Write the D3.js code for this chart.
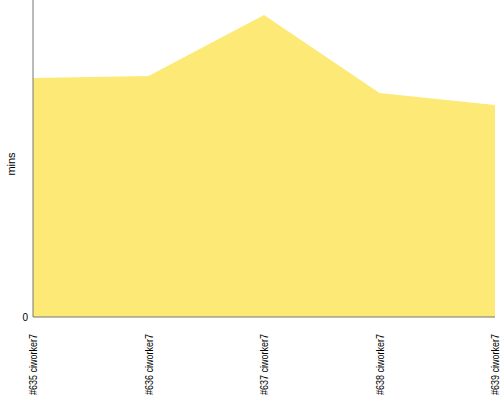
<!DOCTYPE html>
<html><head><meta charset="utf-8">
<script src="https://cdnjs.cloudflare.com/ajax/libs/d3/7.8.5/d3.min.js"></script>
<style>body{margin:0;background:#fff}svg{display:block}</style>
</head><body>
<svg id="c" width="500" height="400"></svg>
<script>
const categories = ["#635 ciworker7","#636 ciworker7","#637 ciworker7","#638 ciworker7","#639 ciworker7"];
const values = [7.54, 7.60, 9.53, 7.07, 6.69];
const yTicks = [0];
const yMax = 10;

const svg = d3.select("#c");
const m = {l:33, r:5, t:0, b:83};
const W = 500, H = 400;
const x = d3.scalePoint().domain(categories).range([m.l, W - m.r]);
const y = d3.scaleLinear().domain([0, yMax]).range([H - m.b, m.t]);

const area = d3.area().x((d,i)=>x(categories[i])).y0(y(0)).y1(d=>y(d));
svg.append("path").datum(values).attr("d", area).attr("fill", "#fdea76");

const ya = svg.append("g").attr("transform", `translate(${m.l},0)`)
  .call(d3.axisLeft(y).tickValues(yTicks).tickSize(4).tickFormat(d3.format("d")));
ya.select(".domain").attr("stroke","#777").attr("d", `M0,${m.t}V${H-m.b}`);
ya.selectAll(".tick line").remove();
ya.selectAll(".tick text").attr("font-family","Liberation Sans, sans-serif").attr("font-size",10).attr("fill","#000").attr("x",-5);

const xa = svg.append("g").attr("transform", `translate(0,${H-m.b})`)
  .call(d3.axisBottom(x).tickSize(0));
xa.select(".domain").attr("stroke","#777").attr("d", `M${m.l},0H${W-m.r}`);
xa.selectAll(".tick text")
  .attr("font-family","Liberation Sans, sans-serif").attr("font-size",10).attr("fill","#000")
  .attr("text-anchor","end").attr("transform","rotate(-90)")
  .attr("textLength",61).attr("lengthAdjust","spacingAndGlyphs")
  .attr("x",-17).attr("y",0).attr("dy","0.35em");

svg.append("text").attr("transform","translate(15,164) rotate(-90)")
  .attr("text-anchor","middle").attr("font-family","Liberation Sans, sans-serif")
  .attr("font-size",11).attr("fill","#000").text("mins");
</script>
</body></html>
